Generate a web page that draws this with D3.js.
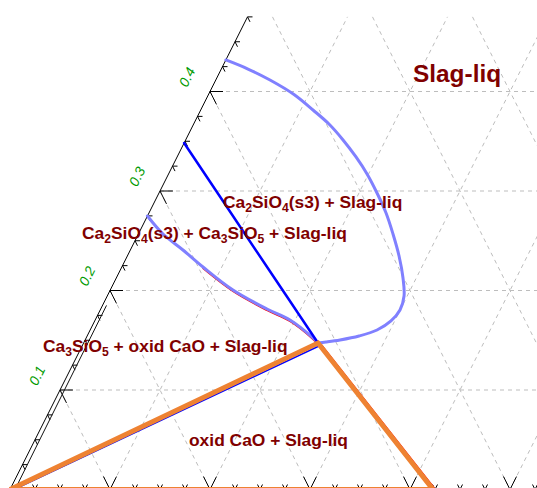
<!DOCTYPE html>
<html>
<head>
<meta charset="utf-8">
<script src="https://cdn.jsdelivr.net/npm/d3@7"></script>
<style>
  html, body { margin: 0; padding: 0; background: #fff; }
  svg { display: block; }
</style>
</head>
<body>
<svg id="chart" width="537" height="488"></svg>
<script>
// Compositions are written as [b, c]:
//   b = mole fraction measured along the base, c = mole fraction on the left axis.
const axisTop = 0.475;
const leftTicks = d3.range(1, 20).map(k => +(k * 0.025).toFixed(3));
const baseTicks = d3.range(1, 22).map(k => +(k * 0.025).toFixed(3));
const axisLabels = ["0.1", "0.2", "0.3", "0.4"];
const gridC = [0.1, 0.2, 0.3, 0.4];
const gridB = [0.1, 0.2, 0.3, 0.4, 0.5];
const gridA = [0.9, 0.8, 0.7, 0.6, 0.5, 0.4, 0.3];

// Three-phase tie triangle: CaO corner, liquid invariant point, base compound
const tieTriangle = [[0, 0], [0.2344, 0.1472], [0.423, 0]];

// Liquidus of Ca2SiO4(s3)
const liquidus = [
  [0, 0.4317], [0.0267, 0.4226], [0.0542, 0.4116], [0.0855, 0.3970],
  [0.1123, 0.3814], [0.1353, 0.3673], [0.1574, 0.3513], [0.1789, 0.3342],
  [0.1985, 0.3171], [0.2180, 0.2980], [0.2371, 0.2779], [0.2546, 0.2568],
  [0.2717, 0.2347], [0.2867, 0.2126], [0.2968, 0.1945], [0.2998, 0.1804],
  [0.2963, 0.1694], [0.2869, 0.1603], [0.2719, 0.1543], [0.2549, 0.1503],
  [0.2419, 0.1482], [0.2344, 0.1472]
];

// Ca2SiO4 / Ca3SiO5 boundary with liquid
const c2sC3sBoundary = [
  [0, 0.2749], [0.0246, 0.2568], [0.0526, 0.2407], [0.0812, 0.2236],
  [0.1227, 0.2005], [0.1663, 0.1814], [0.1948, 0.1704], [0.2269, 0.1523],
  [0.2344, 0.1472]
];
const c3sBoundaryRed = [
  [0.0819, 0.2221], [0.1235, 0.1990], [0.1670, 0.1799], [0.1956, 0.1688],
  [0.2276, 0.1508], [0.2351, 0.1457]
];
const c3sTieRed = [[0.2364, 0.1472], [0.4255, 0]];
const caoTieBlue = [[0.004, 0], [0.2361, 0.1437]];

// Ca2SiO4(s3) tie line to the liquid
const c2sTie = [[0, 0.3482], [0.1488, 0.2206], [0.2344, 0.1472]];

// Narrow boundary along the left axis
const edgeBoundary = [[0.005, 0], [0.004, 0.185]];

// Region labels: [text, subscript?] runs
const regionLabels = [
  [["Slag-liq", 0]],
  [["Ca", 0], ["2", 1], ["SiO", 0], ["4", 1], ["(s3) + Slag-liq", 0]],
  [["Ca", 0], ["2", 1], ["SiO", 0], ["4", 1], ["(s3) + Ca", 0], ["3", 1], ["SiO", 0], ["5", 1], [" + Slag-liq", 0]],
  [["Ca", 0], ["3", 1], ["SiO", 0], ["5", 1], [" + oxid CaO + Slag-liq", 0]],
  [["oxid CaO + Slag-liq", 0]]
];

// ---- layout ----
const labelLayout = [
  { x: 413, y: 82, size: 24.4 },
  { x: 223, y: 208, size: 17.4 },
  { x: 82, y: 239, size: 17.4 },
  { x: 43, y: 352, size: 17.4 },
  { x: 189, y: 446, size: 17.4 }
];

const svg = d3.select("#chart");
const x = d3.scaleLinear().domain([0, 1]).range([10, 1010]);
const y = d3.scaleLinear().domain([0, 1]).range([489.5, -505.5]);
const px = d => x(d[0] + d[1] / 2);
const py = d => y(d[1]);

const straight = d3.line().x(px).y(py);
const smooth = d3.line().x(px).y(py).curve(d3.curveCatmullRom.alpha(0.5));

// grid
const gridSegs = [];
gridC.forEach(c => gridSegs.push([[0, c], [1 - c, c]]));
gridB.forEach(b => gridSegs.push([[b, 0], [b, axisTop]]));
gridA.forEach(a => {
  const ct = Math.min(1 - a, axisTop);
  gridSegs.push([[1 - a - ct, ct], [1 - a, 0]]);
});
svg.append("g")
  .selectAll("path").data(gridSegs).join("path")
  .attr("d", straight)
  .attr("fill", "none")
  .attr("stroke", "#bdbdbd")
  .attr("stroke-width", 1)
  .attr("stroke-dasharray", "4,4");

// ticks
const isMajor = v => Math.abs(v * 10 - Math.round(v * 10)) < 1e-6;
const tickSegs = [];
leftTicks.forEach(t => {
  const d = isMajor(t) ? 0.013 : 0.005;
  tickSegs.push([[0, t], [d, t]]);
  tickSegs.push([[0, t], [d, t - d]]);
});
baseTicks.forEach(t => {
  const d = isMajor(t) ? 0.013 : 0.005;
  tickSegs.push([[t, 0], [t, d]]);
  tickSegs.push([[t, 0], [t - d, d]]);
});
svg.append("g")
  .selectAll("path").data(tickSegs).join("path")
  .attr("d", straight)
  .attr("fill", "none")
  .attr("stroke", "#000")
  .attr("stroke-width", 1);

// left axis
svg.append("path").datum([[0, 0], [0, axisTop]])
  .attr("d", straight).attr("stroke", "#000").attr("stroke-width", 1).attr("fill", "none");
svg.append("path").datum(edgeBoundary)
  .attr("d", straight).attr("stroke", "#111").attr("stroke-width", 1).attr("fill", "none");

// axis labels
const angle = Math.atan2(py([0, 1]) - py([0, 0]), px([0, 1]) - px([0, 0])) * 180 / Math.PI;
svg.append("g")
  .selectAll("text").data(axisLabels).join("text")
  .attr("transform", d => `translate(${px([0, +d]) - 23},${py([0, +d]) - 14.5}) rotate(${angle})`)
  .attr("text-anchor", "middle")
  .attr("dominant-baseline", "central")
  .attr("font-family", "Liberation Sans, Arial, sans-serif")
  .attr("font-style", "italic")
  .attr("font-size", 14)
  .attr("fill", "#009a00")
  .text(d => d);

// phase boundaries
const lines = svg.append("g").attr("fill", "none").attr("stroke-linejoin", "round").attr("stroke-linecap", "round");
lines.append("path").datum(c3sBoundaryRed).attr("d", smooth).attr("stroke", "#ff0000").attr("stroke-width", 1.3);
lines.append("path").datum(c3sTieRed).attr("d", straight).attr("stroke", "#ff0000").attr("stroke-width", 1.5);
lines.append("path").datum(caoTieBlue).attr("d", straight).attr("stroke", "#0000ff").attr("stroke-width", 1.5);
lines.append("path").datum(liquidus).attr("d", smooth).attr("stroke", "#8080ff").attr("stroke-width", 3);
lines.append("path").datum(c2sC3sBoundary).attr("d", smooth).attr("stroke", "#8080ff").attr("stroke-width", 3);
lines.append("path").datum(c2sTie).attr("d", smooth).attr("stroke", "#0000ff").attr("stroke-width", 2.5);

svg.append("path").datum(tieTriangle)
  .attr("d", d => straight(d) + "Z")
  .attr("fill", "none")
  .attr("stroke", "#ee8232")
  .attr("stroke-width", 5)
  .attr("stroke-linejoin", "miter");

// region labels
const labels = svg.append("g")
  .attr("font-family", "Liberation Sans, Arial, sans-serif")
  .attr("font-weight", "bold")
  .attr("fill", "#800000");
regionLabels.forEach((runs, i) => {
  const L = labelLayout[i];
  const t = labels.append("text").attr("x", L.x).attr("y", L.y).attr("font-size", L.size);
  let shifted = false;
  runs.forEach(([txt, sub]) => {
    const s = t.append("tspan").text(txt);
    if (sub && !shifted) { s.attr("dy", 4).attr("font-size", L.size * 0.7); shifted = true; }
    else if (sub) { s.attr("font-size", L.size * 0.7); }
    else if (shifted) { s.attr("dy", -4); shifted = false; }
  });
});
</script>
</body>
</html>
